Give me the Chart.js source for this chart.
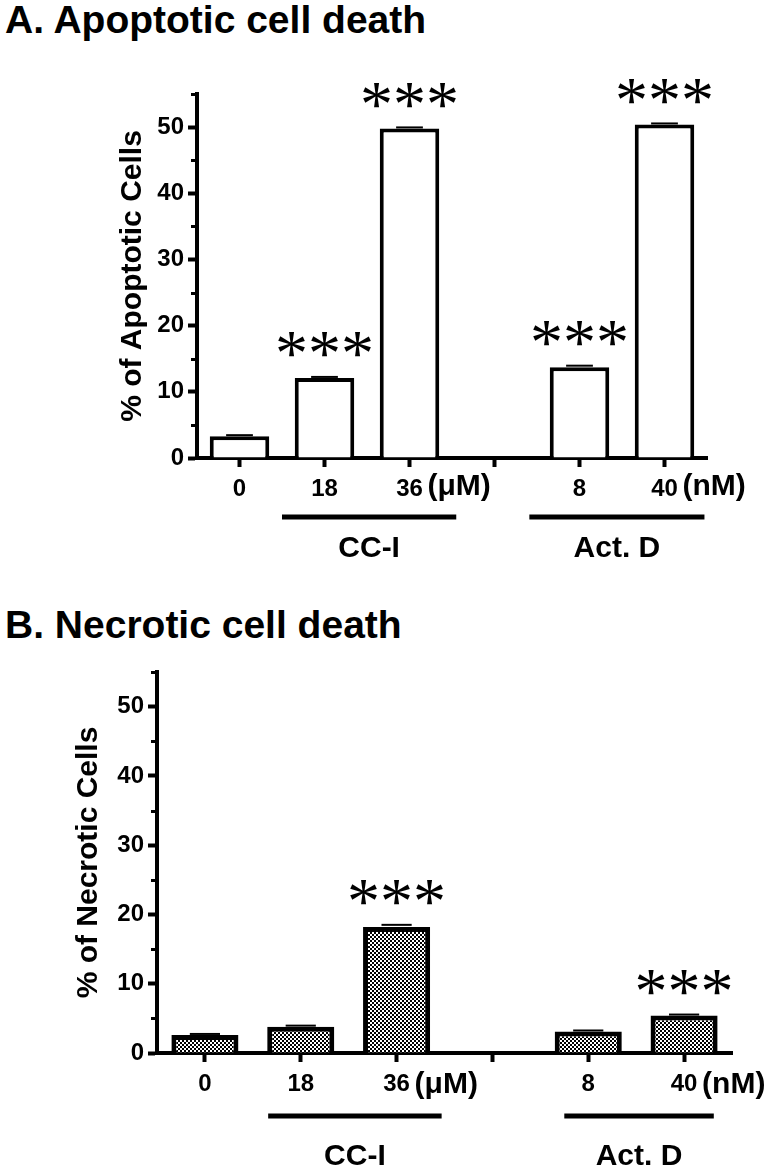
<!DOCTYPE html>
<html><head><meta charset="utf-8">
<script src="https://cdn.jsdelivr.net/npm/chart.js@4.4.1/dist/chart.umd.min.js"></script>
<style>
html,body{margin:0;padding:0;background:#fff;}
body{width:774px;height:1170px;position:relative;overflow:hidden;font-family:"Liberation Sans",Arial,sans-serif;}
.ttl{position:absolute;left:5px;font-weight:bold;font-size:39px;color:#000;line-height:1;white-space:nowrap;}
#ca{position:absolute;left:0;top:0;}
#cb{position:absolute;left:0;top:590px;}
</style></head><body>
<div class="ttl" style="top:0px">A. Apoptotic cell death</div>
<div class="ttl" style="top:605px">B. Necrotic cell death</div>
<canvas id="ca" width="774" height="580"></canvas>
<canvas id="cb" width="774" height="580"></canvas>
<script>
// ---- data ----
const categories = ['0', '18', '36', '', '8', '40'];
const apoptotic = [3.3, 12.1, 49.8, null, 13.7, 50.4];
const apoptoticErr = [0.15, 0.15, 0.15, null, 0.25, 0.15];
const necrotic = [2.6, 3.8, 18.2, null, 3.1, 5.4];
const necroticErr = [0.15, 0.15, 0.3, null, 0.15, 0.15];
const apoptoticSig = ['', '***', '***', '', '***', '***'];
const necroticSig = ['', '', '***', '', '', '***'];
const unitLabels = ['', '', '(μM)', '', '', '(nM)'];
const groupNames = ['CC-I', 'Act. D'];
const yMax = 55;
const yStep = 5;
const yLabelStep = 10;

const FONT = '"Liberation Sans", Arial, sans-serif';

function checker() {
  const c = document.createElement('canvas');
  c.width = 4; c.height = 4;
  const g = c.getContext('2d');
  g.fillStyle = '#fff'; g.fillRect(0, 0, 4, 4);
  g.fillStyle = '#000'; g.fillRect(0, 0, 2, 2); g.fillRect(2, 2, 2, 2);
  return g.createPattern(c, 'repeat');
}

const annotPlugin = {
  id: 'annot',
  afterDraw(chart, args, o) {
    const ctx = chart.ctx, xs = chart.scales.x, ys = chart.scales.y;
    const meta = chart.getDatasetMeta(0);
    const vals = chart.data.datasets[0].data;
    const bottom = chart.chartArea.bottom;
    ctx.save();
    ctx.strokeStyle = '#000'; ctx.fillStyle = '#000';
    // minor y ticks
    ctx.lineWidth = 3;
    ys.ticks.forEach(t => {
      if (t.value % yLabelStep !== 0) {
        const py = Math.round(ys.getPixelForValue(t.value)) + 0.5;
        ctx.beginPath(); ctx.moveTo(ys.right - 6, py); ctx.lineTo(ys.right, py); ctx.stroke();
      }
    });
    // error caps
    ctx.lineWidth = 2;
    vals.forEach((v, i) => {
      if (v == null) return;
      const bar = meta.data[i];
      const e = o.errs[i] || 0;
      const py = ys.getPixelForValue(v + e);
      const w = bar.width * 0.45;
      ctx.beginPath(); ctx.moveTo(bar.x - w / 2, py); ctx.lineTo(bar.x + w / 2, py); ctx.stroke();
    });
    // stars
    ctx.font = o.starFont;
    const m = ctx.measureText('*');
    vals.forEach((v, i) => {
      if (!o.sig[i]) return;
      const bar = meta.data[i];
      const cy = ys.getPixelForValue(v + (o.errs[i] || 0)) - o.starGap;
      const base = cy + (m.actualBoundingBoxAscent - m.actualBoundingBoxDescent) / 2;
      ctx.textAlign = 'center'; ctx.textBaseline = 'alphabetic';
      const n = o.sig[i].length;
      for (let k = 0; k < n; k++) {
        ctx.fillText(o.sig[i][k], bar.x + (k - (n - 1) / 2) * o.starSpacing, base);
      }
    });
    // unit labels
    ctx.font = 'bold 30px ' + FONT;
    ctx.textAlign = 'left'; ctx.textBaseline = 'middle';
    unitLabels.forEach((u, i) => {
      if (!u) return;
      ctx.fillText(u, xs.getPixelForValue(i) + 18, bottom + o.unitDy);
    });
    // group lines + labels
    o.groups.forEach((g, k) => {
      const x1 = xs.getPixelForValue(g[0]), x2 = xs.getPixelForValue(g[1]);
      ctx.fillRect(x1, bottom + o.lineDy - 2.5, x2 - x1, 5);
      ctx.font = 'bold 30px ' + FONT;
      ctx.textAlign = 'center'; ctx.textBaseline = 'middle';
      ctx.fillText(groupNames[k], (x1 + x2) / 2, bottom + o.labelDy);
    });
    ctx.restore();
  }
};

function makeChart(id, values, errs, sig, yTitle, L) {
  new Chart(document.getElementById(id), {
    type: 'bar',
    data: {
      labels: categories,
      datasets: [{
        data: values,
        backgroundColor: L.fill,
        borderColor: '#000',
        borderWidth: L.bw,
        borderSkipped: 'bottom',
        categoryPercentage: 1,
        barPercentage: 0.7
      }]
    },
    plugins: [annotPlugin],
    options: {
      responsive: false,
      animation: false,
      devicePixelRatio: 1,
      layout: { padding: { left: 0, right: L.right, top: L.top, bottom: 0 } },
      plugins: {
        legend: { display: false },
        tooltip: { enabled: false },
        annot: {
          errs: errs, sig: sig, starFont: '66px "Liberation Serif"', starGap: 32, starSpacing: 33,
          unitDy: L.unitDy, lineDy: L.lineDy, labelDy: L.labelDy, groups: L.groups
        }
      },
      scales: {
        x: {
          offset: true, z: 1,
          grid: { offset: false, drawOnChartArea: false, tickLength: 9, tickWidth: 4, tickColor: '#000' },
          border: { display: true, width: 4, color: '#000' },
          ticks: { color: '#000', font: { family: FONT, size: 24, weight: 'bold' }, padding: 8, maxRotation: 0, autoSkip: false },
          afterFit: s => { s.height = L.xh; }
        },
        y: {
          min: 0, max: yMax, z: 1,
          grid: { drawOnChartArea: false, tickLength: 9, tickWidth: 4,
                  tickColor: c => (c.tick && c.tick.value % yLabelStep === 0) ? '#000' : 'rgba(0,0,0,0)' },
          border: { display: true, width: 4, color: '#000' },
          ticks: { stepSize: yStep, color: '#000', font: { family: FONT, size: 24, weight: 'bold' }, padding: 4,
                   callback: v => (v % yLabelStep === 0 ? String(v) : '') },
          title: { display: true, text: yTitle, color: '#000', font: { family: FONT, size: 30, weight: 'bold' },
                   padding: { top: L.titlePad, bottom: 0 } },
          afterFit: s => { s.width = L.yw; }
        }
      }
    }
  });
}

makeChart('ca', apoptotic, apoptoticErr, apoptoticSig, '% of Apoptotic Cells', {
  fill: '#fff', bw: 4, right: 67, top: 94, xh: 122, yw: 197, titlePad: 115,
  unitDy: 29, lineDy: 59, labelDy: 91, groups: [[0.5, 2.55], [3.41, 5.47]]
});
makeChart('cb', necrotic, necroticErr, necroticSig, '% of Necrotic Cells', {
  fill: checker(), bw: 5, right: 42, top: 82, xh: 117, yw: 157, titlePad: 71,
  unitDy: 32, lineDy: 63, labelDy: 104, groups: [[0.66, 2.47], [3.75, 5.31]]
});
</script>
</body></html>
